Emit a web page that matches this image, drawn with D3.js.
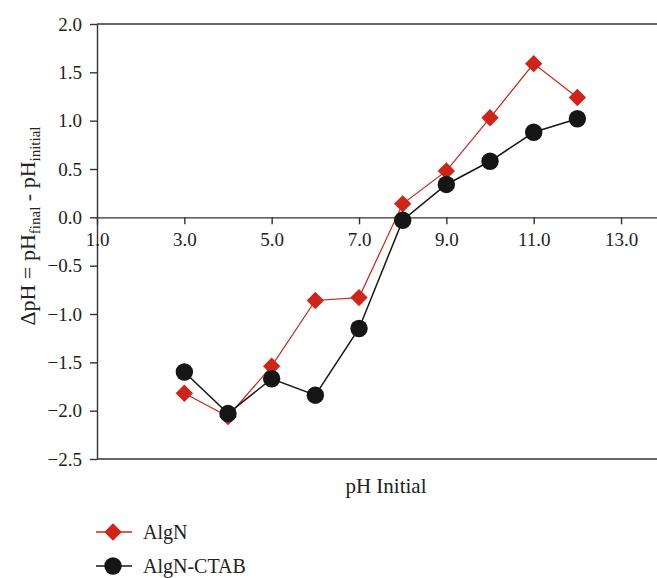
<!DOCTYPE html>
<html><head><meta charset="utf-8">
<script src="https://cdn.jsdelivr.net/npm/d3@7"></script>
<style>
body{margin:0;background:#fff;}
svg{display:block;font-family:"Liberation Serif","Times New Roman",serif;}
</style></head>
<body><svg id="chart" width="657" height="578"></svg>
<script>
const phInitial = [3, 4, 5, 6, 7, 8, 9, 10, 11, 12];
const algN = [-1.82, -2.06, -1.54, -0.86, -0.83, 0.14, 0.48, 1.03, 1.59, 1.24];
const algNCTAB = [-1.60, -2.03, -1.67, -1.84, -1.15, -0.03, 0.34, 0.58, 0.88, 1.02];
const xTicks = [1, 3, 5, 7, 9, 11, 13];
const yTicks = [2.0, 1.5, 1.0, 0.5, 0.0, -0.5, -1.0, -1.5, -2.0, -2.5];
const seriesNames = ["AlgN", "AlgN-CTAB"];

const svg = d3.select("#chart");
const x = d3.scaleLinear().domain([1, 14]).range([97, 664.7]);
const y = d3.scaleLinear().domain([-2.5, 2]).range([459, 24]);
const axisColor = "#333";
const red = "#cf2418", black = "#161616";

// frame lines top and bottom
svg.append("line").attr("x1", 97).attr("x2", 657).attr("y1", y(2)).attr("y2", y(2))
  .attr("stroke", axisColor).attr("stroke-width", 1.4);
svg.append("line").attr("x1", 97).attr("x2", 657).attr("y1", y(-2.5)).attr("y2", y(-2.5))
  .attr("stroke", axisColor).attr("stroke-width", 1.4);

// y axis
const yAxis = svg.append("g").attr("transform", `translate(${x(1)},0)`)
  .call(d3.axisLeft(y).tickValues(yTicks).tickSize(7).tickSizeOuter(0).tickPadding(8).tickFormat(d3.format(".1f")));
// x axis at y = 0
const xAxis = svg.append("g").attr("transform", `translate(0,${y(0)})`)
  .call(d3.axisBottom(x).tickValues(xTicks).tickSize(7).tickSizeOuter(0).tickPadding(6).tickFormat(d3.format(".1f")));
[yAxis, xAxis].forEach(g => {
  g.selectAll("path,line").attr("stroke", axisColor).attr("stroke-width", 1.4);
  g.selectAll("text").attr("fill", "#222").style("font-size", "19px").style("font-family", '"Liberation Serif",serif');
});
xAxis.selectAll("text").attr("dy", "0.8em");

// lines
const line = d3.line().x((d, i) => x(phInitial[i])).y(d => y(d));
svg.append("path").datum(algN).attr("d", line).attr("fill", "none").attr("stroke", red).attr("stroke-width", 1.2);
svg.append("path").datum(algNCTAB).attr("d", line).attr("fill", "none").attr("stroke", black).attr("stroke-width", 1.5);

const diamond = d3.symbol().type(d3.symbolSquare).size(150);
svg.append("g").selectAll("path").data(algN).join("path")
  .attr("d", diamond())
  .attr("transform", (d, i) => `translate(${x(phInitial[i])},${y(d)}) rotate(45)`)
  .attr("fill", red);
svg.append("g").selectAll("circle").data(algNCTAB).join("circle")
  .attr("cx", (d, i) => x(phInitial[i])).attr("cy", d => y(d)).attr("r", 8.7)
  .attr("fill", black);

// axis titles
svg.append("text").attr("x", 386).attr("y", 493).attr("text-anchor", "middle")
  .style("font-size", "21px").attr("fill", "#222").text("pH Initial");

const yt = svg.append("text").attr("transform", "translate(35,226) rotate(-90)")
  .attr("text-anchor", "middle").style("font-size", "22px").attr("fill", "#222");
yt.append("tspan").text("ΔpH = pH");
yt.append("tspan").attr("dy", 5).style("font-size", "15px").text("final");
yt.append("tspan").attr("dy", -5).text(" - pH");
yt.append("tspan").attr("dy", 5).style("font-size", "15px").text("initial");

// legend
const legendY = [532, 566];
const legendColors = [red, black];
seriesNames.forEach((name, i) => {
  const g = svg.append("g");
  g.append("line").attr("x1", 96).attr("x2", 132).attr("y1", legendY[i]).attr("y2", legendY[i])
    .attr("stroke", legendColors[i]).attr("stroke-width", 1.4);
  if (i === 0) {
    g.append("path").attr("d", diamond()).attr("transform", `translate(113,${legendY[i]}) rotate(45)`).attr("fill", red);
  } else {
    g.append("circle").attr("cx", 113).attr("cy", legendY[i]).attr("r", 8.7).attr("fill", black);
  }
  g.append("text").attr("x", 143).attr("y", legendY[i]).attr("dy", "0.35em")
    .style("font-size", "20px").attr("fill", "#222").text(name);
});
</script></body></html>
